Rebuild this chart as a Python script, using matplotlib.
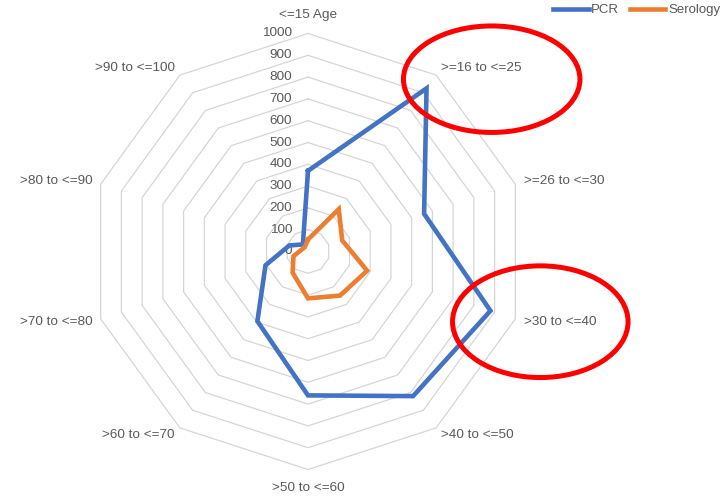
import numpy as np
import matplotlib
matplotlib.use('Agg')
import matplotlib.pyplot as plt
from matplotlib.patches import Ellipse

plt.rcParams['font.family'] = ['Liberation Sans', 'DejaVu Sans']

categories = ['<=15 Age', '>=16 to <=25', '>=26 to <=30', '>30 to <=40',
              '>40 to <=50', '>50 to <=60', '>60 to <=70', '>70 to <=80',
              '>80 to <=90', '>90 to <=100']
pcr = [370, 925, 560, 880, 820, 660, 395, 205, 90, 40]
serology = [55, 240, 165, 285, 250, 215, 120, 70, 30, 25]
ticks = [0, 100, 200, 300, 400, 500, 600, 700, 800, 900, 1000]

# pixel geometry of the reference (center of the radar, px per value unit)
W, H = 728, 496
cx, cy = 308, 251.5
scale = 0.218


def px(x, y):
    return (x - cx) / scale, (cy - y) / scale


def to_xy(vals):
    n = len(vals)
    ang = np.arange(n) * 2 * np.pi / n
    v = np.asarray(vals, dtype=float)
    return v * np.sin(ang), v * np.cos(ang)


fig = plt.figure(figsize=(W / 100, H / 100), dpi=100)
ax = fig.add_axes([0, 0, 1, 1])
x0, y1 = px(0, 0)
x1, y0 = px(W, H)
ax.set_xlim(x0, x1)
ax.set_ylim(y0, y1)
ax.axis('off')

n = len(categories)
grey = '#595959'

# polygon grid
for t in ticks[1:]:
    gx, gy = to_xy([t] * n)
    ax.plot(np.append(gx, gx[0]), np.append(gy, gy[0]),
            color='#d4d4d4', linewidth=0.85, zorder=1)

# value labels
for t in ticks:
    ax.text(-73, t, str(t), ha='right', va='center',
            fontsize=9.7, color=grey)

# category labels
ang = np.arange(n) * 2 * np.pi / n
for i, lab in enumerate(categories):
    if i == 0 or i == n // 2:
        r = 1083
        ha = 'center'
    else:
        r = 1040
        ha = 'left' if i < n // 2 else 'right'
    ax.text(r * np.sin(ang[i]), r * np.cos(ang[i]), lab, ha=ha, va='center',
            fontsize=9.7, color=grey)

# series
px_, py_ = to_xy(pcr)
ax.plot(np.append(px_, px_[0]), np.append(py_, py_[0]),
        color='#4472C4', linewidth=3.3, solid_joinstyle='miter',
        label='PCR', zorder=3)
sx, sy = to_xy(serology)
ax.plot(np.append(sx, sx[0]), np.append(sy, sy[0]),
        color='#ED7D31', linewidth=3.3, solid_joinstyle='miter',
        label='Serology', zorder=4)

# red highlight ellipses
for ex, ey, ew, eh in [(491.7, 79.2, 176.5, 106.5), (540.3, 321.7, 175.5, 111.7)]:
    c = px(ex, ey)
    ax.add_patch(Ellipse(c, ew / scale, eh / scale, fill=False,
                         edgecolor='#FF0000', linewidth=3.6, zorder=5))

leg = ax.legend(loc='upper left', bbox_to_anchor=(553 / W, 1 - 4 / H),
                bbox_transform=fig.transFigure, ncol=2, frameon=False,
                borderpad=0, borderaxespad=0, fontsize=9.5,
                handlelength=2.7, handletextpad=0.2, columnspacing=0.8)
for txt in leg.get_texts():
    txt.set_color(grey)

fig.savefig('out.png', dpi=100)
